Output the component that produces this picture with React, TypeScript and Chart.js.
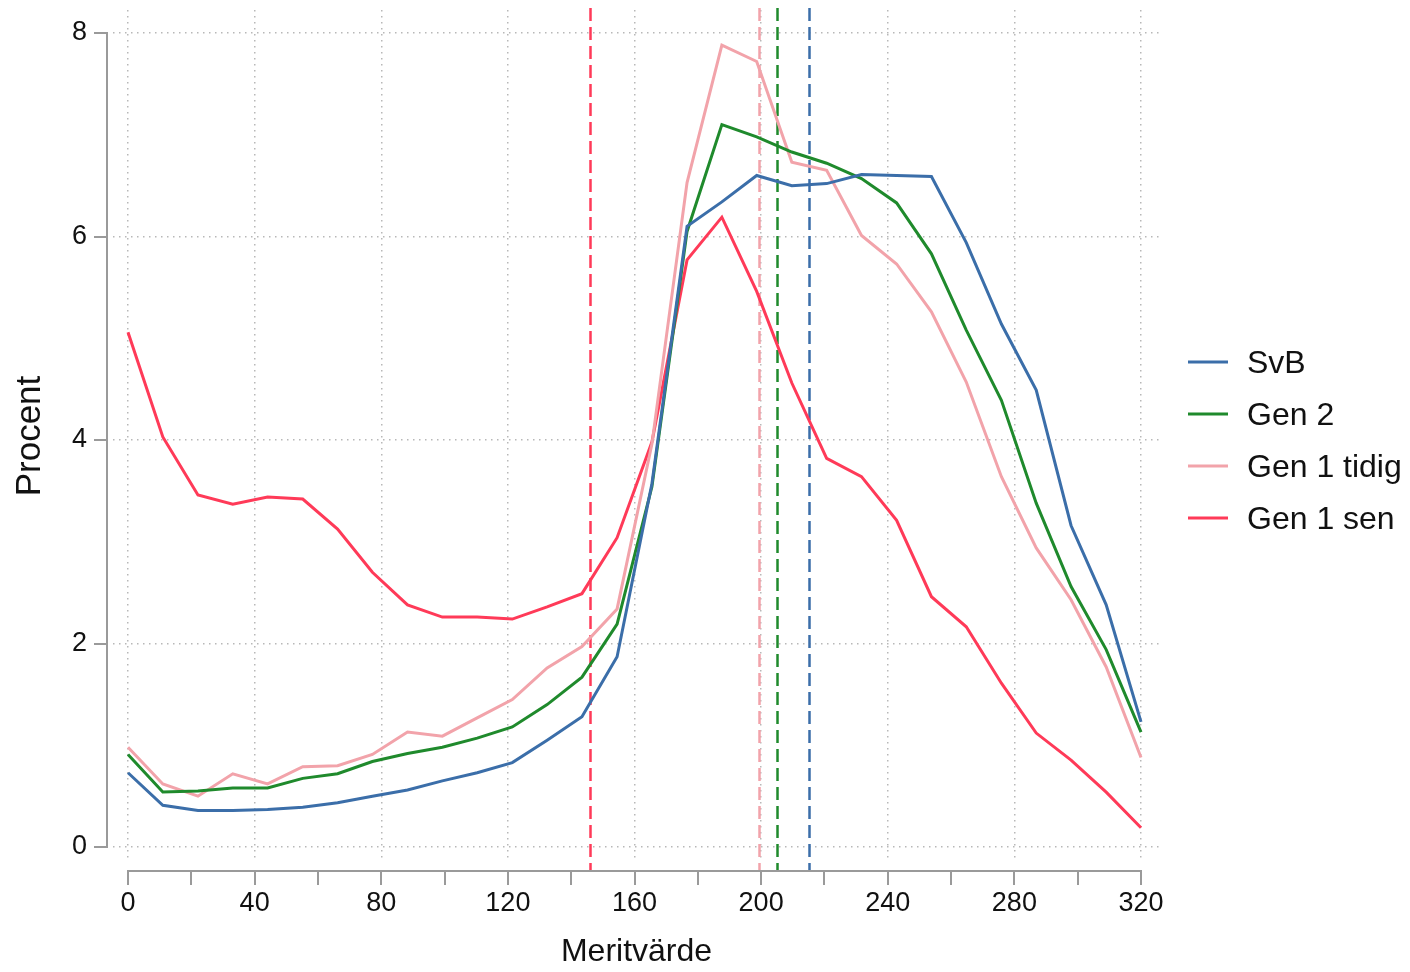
import React, { useEffect, useRef } from "react";
import { Chart, registerables } from "chart.js";

Chart.register(...registerables);

const meritValues = [0, 11.0, 22.1, 33.1, 44.1, 55.2, 66.2, 77.2, 88.3, 99.3, 110.3, 121.4, 132.4, 143.4, 154.5, 165.5, 176.6, 187.6, 198.6, 209.7, 220.7, 231.7, 242.8, 253.8, 264.8, 275.9, 286.9, 297.9, 309.0, 320.0];

const seriesLabels = ["SvB", "Gen 2", "Gen 1 tidig", "Gen 1 sen"];
const seriesColors = ["#3b6ea9", "#1f8a2c", "#f2a3aa", "#ff3a58"];

const svb = [0.73, 0.41, 0.36, 0.36, 0.37, 0.39, 0.435, 0.5, 0.56, 0.65, 0.73, 0.83, 1.05, 1.28, 1.87, 3.57, 6.1, 6.34, 6.6, 6.5, 6.52, 6.61, 6.6, 6.59, 5.94, 5.14, 4.49, 3.16, 2.38, 1.23];
const gen2 = [0.91, 0.54, 0.55, 0.58, 0.58, 0.675, 0.72, 0.84, 0.92, 0.98, 1.07, 1.18, 1.4, 1.67, 2.19, 3.54, 6.05, 7.1, 6.98, 6.83, 6.72, 6.57, 6.33, 5.83, 5.08, 4.39, 3.38, 2.56, 1.94, 1.13];
const gen1Tidig = [0.98, 0.62, 0.5, 0.72, 0.62, 0.79, 0.8, 0.91, 1.13, 1.09, 1.27, 1.45, 1.76, 1.97, 2.34, 3.96, 6.53, 7.88, 7.72, 6.73, 6.65, 6.01, 5.73, 5.26, 4.57, 3.64, 2.94, 2.43, 1.77, 0.88];
const gen1Sen = [5.06, 4.03, 3.46, 3.37, 3.44, 3.42, 3.125, 2.7, 2.38, 2.26, 2.26, 2.24, 2.36, 2.49, 3.04, 3.98, 5.77, 6.19, 5.46, 4.56, 3.82, 3.64, 3.21, 2.46, 2.165, 1.61, 1.12, 0.855, 0.54, 0.19];

const seriesValues = [svb, gen2, gen1Tidig, gen1Sen];
const meanValues = [215.1, 205.0, 199.3, 145.9];

const xTickValues = [0, 40, 80, 120, 160, 200, 240, 280, 320];
const xMinorTickValues = [0, 20, 40, 60, 80, 100, 120, 140, 160, 180, 200, 220, 240, 260, 280, 300, 320];
const yTickValues = [0, 2, 4, 6, 8];

const AXIS_GRAY = "#9a9a9a";
const GRID_GRAY = "#b8b8b8";
const TEXT_FONT = "'Liberation Sans', Arial, sans-serif";

const stataPlugin = {
  id: "stataDecor",
  beforeDatasetsDraw(chart: any) {
    const { ctx, chartArea, scales } = chart;
    const x = scales.x;
    const axisY = chartArea.bottom + 9;
    ctx.save();
    ctx.lineWidth = 2.5;
    ctx.setLineDash([13, 6]);
    meanValues.forEach((m, i) => {
      const px = Math.round(x.getPixelForValue(m)) + 0.5;
      ctx.strokeStyle = seriesColors[i];
      ctx.beginPath();
      ctx.moveTo(px, 0);
      ctx.lineTo(px, axisY);
      ctx.stroke();
    });
    ctx.restore();
  },
  afterDraw(chart: any) {
    const { ctx, chartArea, scales } = chart;
    const x = scales.x;
    const y = scales.y;
    ctx.save();
    ctx.strokeStyle = AXIS_GRAY;
    ctx.lineWidth = 2;
    ctx.setLineDash([]);
    // x axis
    const axisY = chartArea.bottom + 9;
    const x0 = x.getPixelForValue(0);
    const x1 = x.getPixelForValue(320);
    ctx.beginPath();
    ctx.moveTo(x0, axisY);
    ctx.lineTo(x1, axisY);
    xMinorTickValues.forEach((v) => {
      const px = Math.round(x.getPixelForValue(v));
      ctx.moveTo(px, axisY - 1);
      ctx.lineTo(px, axisY + 14);
    });
    ctx.stroke();
    // y axis
    const axisX = chartArea.left - 6;
    const y0 = y.getPixelForValue(0);
    const y1 = y.getPixelForValue(8);
    ctx.beginPath();
    ctx.moveTo(axisX, y0);
    ctx.lineTo(axisX, y1);
    yTickValues.forEach((v) => {
      const py = Math.round(y.getPixelForValue(v));
      ctx.moveTo(axisX + 1, py);
      ctx.lineTo(axisX - 13, py);
    });
    ctx.stroke();

    // legend
    const lx = chartArea.right + 28;
    const cy = (chartArea.top + chartArea.bottom) / 2 + 4;
    const step = 51.7;
    ctx.font = "32px " + TEXT_FONT;
    ctx.textBaseline = "middle";
    ctx.textAlign = "left";
    chart.data.datasets.forEach((ds: any, i: number) => {
      const ly = Math.round(cy + (i - 1.5) * step);
      ctx.strokeStyle = ds.borderColor;
      ctx.lineWidth = 3;
      ctx.beginPath();
      ctx.moveTo(lx, ly);
      ctx.lineTo(lx + 40, ly);
      ctx.stroke();
      ctx.fillStyle = "#111";
      ctx.fillText(ds.label, lx + 59, ly + 2);
    });
    ctx.restore();
  },
};

export default function App() {
  const canvasRef = useRef<HTMLCanvasElement | null>(null);

  useEffect(() => {
    if (!canvasRef.current) return;
    const datasets = seriesLabels.map((label, i) => ({
      label,
      data: meritValues.map((m, j) => ({ x: m, y: seriesValues[i][j] })),
      borderColor: seriesColors[i],
      backgroundColor: seriesColors[i],
      borderWidth: 3,
      pointRadius: 0,
      tension: 0,
      fill: false,
    }));
    const chart = new Chart(canvasRef.current, {
      type: "line",
      data: { datasets },
      plugins: [stataPlugin],
      options: {
        animation: false,
        responsive: false,
        devicePixelRatio: 1,
        layout: { padding: { top: 2, right: 242, left: 0, bottom: 0 } },
        plugins: {
          legend: { display: false },
          tooltip: { enabled: false },
        },
        scales: {
          x: {
            type: "linear",
            min: -4.74,
            max: 326,
            afterBuildTicks: (scale: any) => {
              scale.ticks = xTickValues.map((v) => ({ value: v }));
            },
            afterFit: (scale: any) => {
              scale.height = 102;
              scale.paddingLeft = 0;
              scale.paddingRight = 0;
            },
            grid: { color: GRID_GRAY, lineWidth: 1.5, drawTicks: false },
            border: { display: false, dash: [1.5, 4.5] },
            ticks: {
              autoSkip: false,
              maxRotation: 0,
              padding: 25,
              color: "#111",
              font: { family: TEXT_FONT, size: 27 },
            },
            title: {
              display: true,
              text: "Meritvärde",
              color: "#111",
              font: { family: TEXT_FONT, size: 32, lineHeight: 0.75 },
              padding: { top: 0, bottom: 0 },
            },
          },
          y: {
            type: "linear",
            min: -0.147,
            max: 8.226,
            afterBuildTicks: (scale: any) => {
              scale.ticks = yTickValues.map((v) => ({ value: v }));
            },
            afterFit: (scale: any) => {
              scale.width = 105;
              scale.paddingTop = 0;
              scale.paddingBottom = 0;
            },
            grid: { color: GRID_GRAY, lineWidth: 1.5, drawTicks: false },
            border: { display: false, dash: [1.5, 4.5] },
            ticks: {
              padding: 26,
              color: "#111",
              font: { family: TEXT_FONT, size: 27 },
            },
            title: {
              display: true,
              text: "Procent",
              color: "#111",
              font: { family: TEXT_FONT, size: 35, lineHeight: 1.2 },
              padding: { top: 1, bottom: 0 },
            },
          },
        },
      },
    });
    return () => chart.destroy();
  }, []);

  return (
    <div style={{ width: 1394, height: 956 }}>
      <canvas ref={canvasRef} width={1394} height={956} />
    </div>
  );
}
